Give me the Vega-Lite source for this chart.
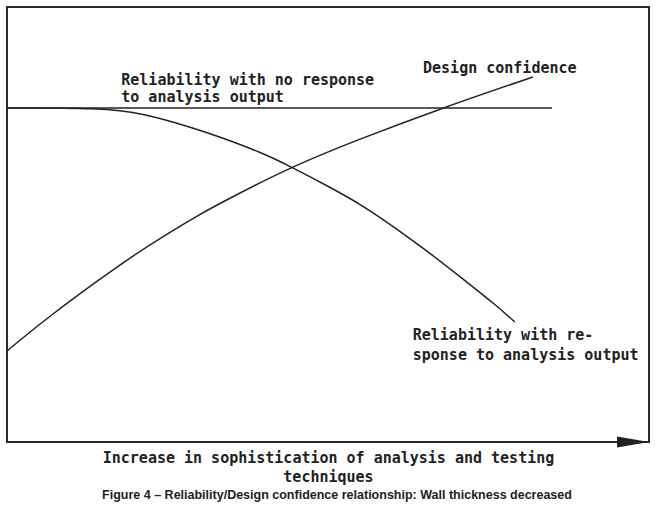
{
  "$schema": "https://vega.github.io/schema/vega-lite/v6.json",
  "width": 642,
  "height": 435,
  "autosize": {"type": "none"},
  "padding": {"left": 7, "top": 7, "right": 8, "bottom": 63},
  "background": "white",
  "config": {
    "view": {"stroke": "#2a2a2a", "strokeWidth": 2},
    "axis": {"grid": false}
  },
  "title": {
    "text": "Figure 4 – Reliability/Design confidence relationship: Wall thickness decreased",
    "orient": "bottom",
    "font": "Liberation Sans",
    "fontSize": 12.5,
    "fontWeight": "bold",
    "color": "#222",
    "offset": 5,
    "dx": 9
  },
  "datasets": {
    "curves": [
      {"series": "flat", "x": 0, "y": 76.8},
      {"series": "flat", "x": 84.9, "y": 76.8},
      {"series": "rel", "x": 0, "y": 76.8},
      {"series": "rel", "x": 14.5, "y": 76.8},
      {"series": "rel", "x": 21.2, "y": 75.6},
      {"series": "rel", "x": 29.0, "y": 72.2},
      {"series": "rel", "x": 33.2, "y": 70.1},
      {"series": "rel", "x": 39.4, "y": 66.7},
      {"series": "rel", "x": 44.1, "y": 63.4},
      {"series": "rel", "x": 50.3, "y": 58.6},
      {"series": "rel", "x": 55.5, "y": 54.3},
      {"series": "rel", "x": 60.7, "y": 49.0},
      {"series": "rel", "x": 65.9, "y": 43.4},
      {"series": "rel", "x": 71.0, "y": 37.5},
      {"series": "rel", "x": 76.3, "y": 31.3},
      {"series": "rel", "x": 79.1, "y": 27.6},
      {"series": "conf", "x": 0, "y": 20.9},
      {"series": "conf", "x": 2.0, "y": 23.4},
      {"series": "conf", "x": 6.7, "y": 29.0},
      {"series": "conf", "x": 14.5, "y": 37.5},
      {"series": "conf", "x": 19.6, "y": 42.8},
      {"series": "conf", "x": 24.9, "y": 47.8},
      {"series": "conf", "x": 30.1, "y": 52.4},
      {"series": "conf", "x": 33.2, "y": 54.9},
      {"series": "conf", "x": 44.1, "y": 63.2},
      {"series": "conf", "x": 55.0, "y": 69.7},
      {"series": "conf", "x": 67.8, "y": 76.8},
      {"series": "conf", "x": 81.9, "y": 83.9}
    ],
    "labels": [
      {"x": 17.8, "y": 82.1, "text": "Reliability with no response"},
      {"x": 17.8, "y": 78.2, "text": "to analysis output"},
      {"x": 64.8, "y": 84.8, "text": "Design confidence"},
      {"x": 63.2, "y": 23.4, "text": "Reliability with re-"},
      {"x": 63.2, "y": 18.9, "text": "sponse to analysis output"}
    ],
    "arrow": [{"x": 100, "y": 0}]
  },
  "encoding": {
    "x": {
      "field": "x",
      "type": "quantitative",
      "scale": {"domain": [0, 100], "nice": false, "zero": false},
      "axis": {
        "domain": false,
        "ticks": false,
        "labels": false,
        "title": ["Increase in sophistication of analysis and testing", "techniques"],
        "titleFont": "DejaVu Sans Mono",
        "titleFontSize": 15,
        "titleFontWeight": "bold",
        "titleColor": "#222",
        "titleLineHeight": 19,
        "titlePadding": 8
      }
    },
    "y": {
      "field": "y",
      "type": "quantitative",
      "scale": {"domain": [0, 100], "nice": false, "zero": false},
      "axis": null
    }
  },
  "layer": [
    {
      "data": {"name": "curves"},
      "mark": {"type": "line", "interpolate": "basis", "color": "#222", "strokeWidth": 1.5},
      "encoding": {"detail": {"field": "series", "type": "nominal"}}
    },
    {
      "data": {"name": "labels"},
      "mark": {"type": "text", "align": "left", "baseline": "alphabetic", "font": "DejaVu Sans Mono", "fontSize": 15, "fontWeight": "bold", "color": "#222"},
      "encoding": {"text": {"field": "text", "type": "nominal"}}
    },
    {
      "data": {"name": "arrow"},
      "mark": {"type": "point", "filled": true, "color": "#222", "opacity": 1, "size": 1024, "shape": "M 0 0 L -2 -0.34 L -2 0.34 Z"}
    }
  ]
}
